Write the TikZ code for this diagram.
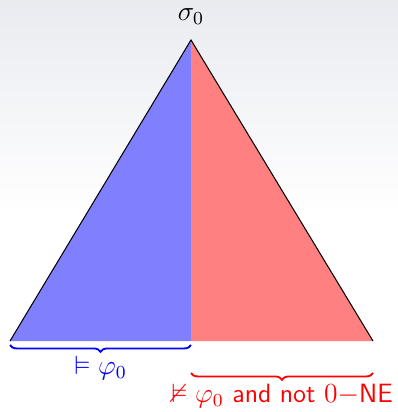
\documentclass[tikz,border=0pt]{standalone}
\usepackage{amsmath,amssymb}
\usepackage{tikz}
\usetikzlibrary{positioning,decorations.pathreplacing}
\definecolor{bgTop}{HTML}{E9EBF0}
\tikzset{
  sideline/.style={draw=black, line width=0.45pt},
  bracelow/.style={decorate, decoration={brace, amplitude=3pt, mirror}, line width=0.8pt},
  bracelabel/.style={font=\fontsize{11.5}{14}\selectfont\sffamily, inner sep=0pt}
}
\begin{document}
\begin{tikzpicture}[x=0.4348pt, y=-0.4348pt]
  \useasboundingbox (0,0) rectangle (398,412);
  \shade[top color=bgTop, bottom color=white] (0,0) rectangle (398,215);
  \fill[white] (0,215) rectangle (398,412);
  % corners of the tree
  \coordinate (top) at (191,40);
  \coordinate (bl) at (10,341);
  \coordinate (bm) at (191,341);
  \coordinate (br) at (373,341);
  \fill[blue!50] (top) -- (bl) -- (bm) -- cycle;
  \fill[red!50] (top) -- (bm) -- (br) -- cycle;
  \draw[sideline] (bl) -- (top) -- (br);
  \node[font=\fontsize{11.5}{14}\selectfont, above=3pt of top] (root) {$\sigma_0$};
  % braces below the base
  \coordinate (bl2) at (10,345);
  \coordinate (bm2) at (191,345);
  \coordinate (bm3) at (191,373);
  \coordinate (br3) at (373,373);
  \draw[bracelow, blue] (bl2) -- (bm2) node[midway, below=4.5pt, bracelabel] (sat) {$\vDash\varphi_0$};
  \draw[bracelow, red] (bm3) -- (br3) node[midway, below=4.5pt, bracelabel] (unsat) {$\nvDash\varphi_0$ and not $0{-}$NE};
\end{tikzpicture}
\end{document}
